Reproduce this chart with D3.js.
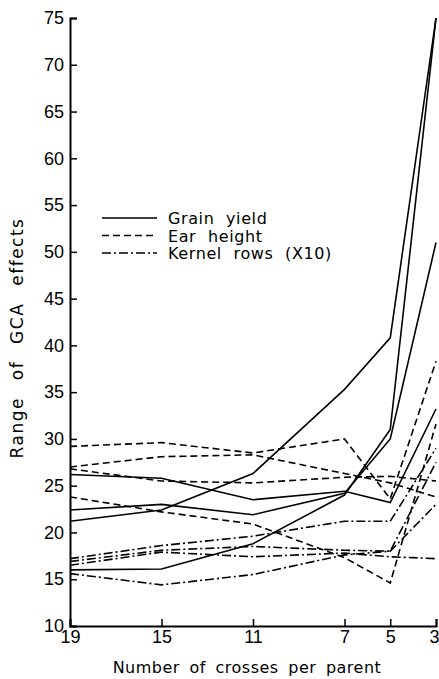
<!DOCTYPE html>
<html><head><meta charset="utf-8">
<script src="https://cdn.jsdelivr.net/npm/d3@7"></script>
<style>body{margin:0;background:#fff}svg{display:block}</style>
</head><body>
<script>
const crosses = [19, 15, 11, 7, 5, 3];
const yTicks = [10,15,20,25,30,35,40,45,50,55,60,65,70,75];
// Grain yield (solid)
const grain1 = [21.2, 22.4, 26.3, 35.3, 40.8, 75.0];
const grain2 = [16.0, 16.1, 18.8, 24.0, 31.0, 75.0];
const grain3 = [22.4, 23.0, 21.9, 24.2, 30.0, 51.0];
const grain4 = [26.2, 25.8, 23.5, 24.4, 23.2, 33.2];
// Ear height (dashed)
const ear1 = [29.2, 29.6, 28.5, 30.0, 23.6, 38.3];
const ear2 = [27.0, 28.1, 28.3, 26.3, 25.3, 23.8];
const ear3 = [26.8, 25.5, 25.3, 25.9, 26.0, 25.5];
const ear4 = [23.8, 22.2, 20.9, 17.3, 14.6, 31.6];
// Kernel rows x10 (dash-dot)
const kern1 = [17.2, 18.6, 19.6, 21.2, 21.2, 29.0];
const kern2 = [16.9, 18.1, 18.5, 18.1, 18.0, 27.5];
const kern3 = [16.5, 17.9, 17.4, 17.8, 17.4, 17.2];
const kern4 = [15.6, 14.4, 15.5, 17.6, 18.0, 23.0];
const legendLabels = ["Grain yield", "Ear height", "Kernel rows (X10)"];

const W = 439, H = 679;
const svg = d3.select("body").append("svg").attr("width", W).attr("height", H);
const x = d3.scaleLinear().domain([19, 3]).range([70, 436]);
const y = d3.scaleLinear().domain([10, 75]).range([626, 18]);
const numFont = "'Liberation Sans', Arial, sans-serif";
const txtFont = "'DejaVu Sans', sans-serif";

const styles = { solid: null, dashed: "7,4", dashdot: "9,3,2,3" };
const series = [
  [grain1, "solid"], [grain2, "solid"], [grain3, "solid"], [grain4, "solid"],
  [ear1, "dashed"], [ear2, "dashed"], [ear3, "dashed"], [ear4, "dashed"],
  [kern1, "dashdot"], [kern2, "dashdot"], [kern3, "dashdot"], [kern4, "dashdot"]
];
const line = d3.line().x((d, i) => x(crosses[i])).y(d => y(d));
series.forEach(([vals, st]) => {
  svg.append("path").attr("d", line(vals)).attr("fill", "none")
    .attr("stroke", "#000").attr("stroke-width", 1.6)
    .attr("stroke-dasharray", styles[st]);
});

// axes
const yAxis = d3.axisLeft(y).tickValues(yTicks).tickSize(-7).tickPadding(6);
const gy = svg.append("g").attr("transform", "translate(70,0)").call(yAxis);
const xAxis = d3.axisBottom(x).tickValues(crosses).tickSize(-7).tickPadding(4);
const gx = svg.append("g").attr("transform", "translate(0,626)").call(xAxis);
[gx, gy].forEach(g => {
  g.select(".domain").attr("stroke-width", 2);
  g.selectAll(".tick line").attr("stroke-width", 1.5);
  g.selectAll("text").attr("font-family", numFont).attr("font-size", 18).attr("fill", "#000");
});
gx.selectAll(".tick text").filter(d => d === 3).attr("text-anchor", "end").attr("dx", 3);

svg.append("text").attr("x", 247).attr("y", 673).attr("text-anchor", "middle")
  .attr("font-family", txtFont).attr("font-size", 16).attr("letter-spacing", 0.5)
  .attr("word-spacing", 4).text("Number of crosses per parent");
svg.append("text").attr("transform", "translate(23,338) rotate(-90)").attr("text-anchor", "middle")
  .attr("font-family", txtFont).attr("font-size", 17).attr("letter-spacing", 1.5)
  .attr("word-spacing", 10).text("Range of GCA effects");

// legend
const legStyles = ["solid", "dashed", "dashdot"];
legendLabels.forEach((lab, i) => {
  const ly = 218 + i * 17.5;
  svg.append("line").attr("x1", 102).attr("x2", 157).attr("y1", ly).attr("y2", ly)
    .attr("stroke", "#000").attr("stroke-width", 1.5).attr("stroke-dasharray", styles[legStyles[i]]);
  svg.append("text").attr("x", 168).attr("y", ly + 6).attr("font-family", txtFont)
    .attr("font-size", 16).attr("letter-spacing", 0.6).attr("word-spacing", 6).text(lab);
});
</script>
</body></html>
